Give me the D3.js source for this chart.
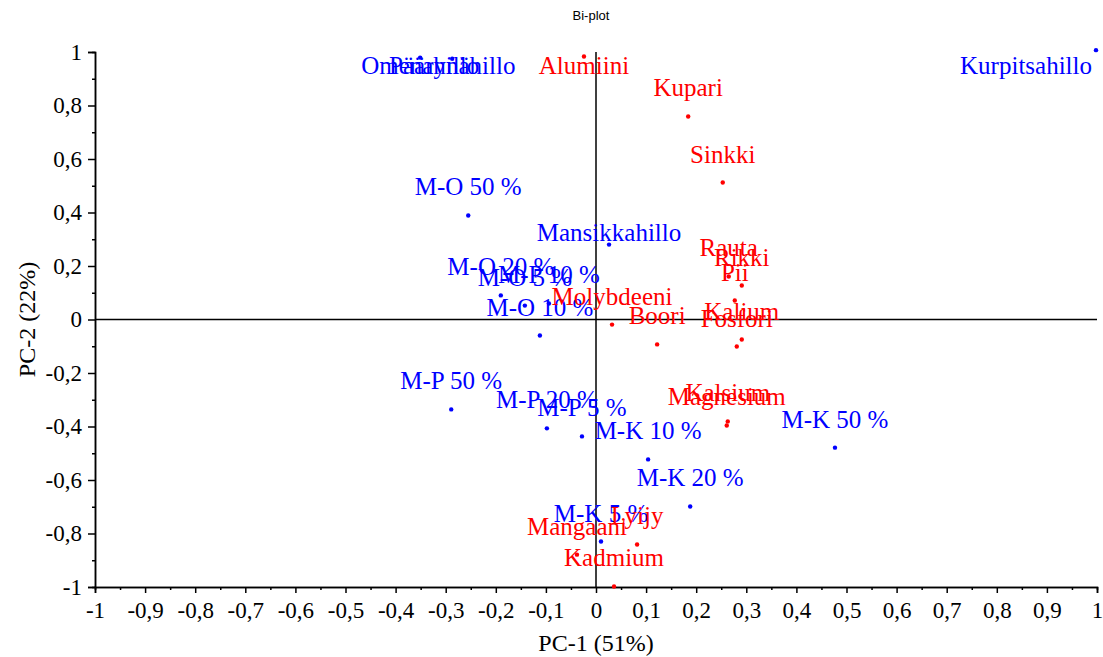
<!DOCTYPE html>
<html>
<head>
<meta charset="utf-8">
<script src="https://cdn.jsdelivr.net/npm/d3@7"></script>
<style>
  body { margin: 0; background: #fff; }
  text { font-family: "Liberation Serif", "Times New Roman", serif; }
</style>
</head>
<body>
<script>
const [svgWidth, svgHeight] = [1103, 657];

// samples (blue)
const sampleNames = [
  "Omenahillo", "Päärynähillo", "Mansikkahillo", "Kurpitsahillo",
  "M-O 5 %", "M-O 10 %", "M-O 20 %", "M-O 50 %",
  "M-P 5 %", "M-P 10 %", "M-P 20 %", "M-P 50 %",
  "M-K 5 %", "M-K 10 %", "M-K 20 %", "M-K 50 %"
];
const sampleX = [-0.351, -0.287, 0.026, 0.998, -0.142, -0.112, -0.190, -0.255,
  -0.028, -0.094, -0.098, -0.289, 0.010, 0.104, 0.188, 0.477];
const sampleY = [0.979, 0.975, 0.280, 1.007, 0.052, -0.060, 0.090, 0.389,
  -0.437, 0.060, -0.407, -0.336, -0.830, -0.523, -0.699, -0.479];

// elements (red)
const elementNames = [
  "Alumiini", "Kupari", "Sinkki", "Rauta", "Rikki", "Pii", "Molybdeeni", "Boori",
  "Kalium", "Fosfori", "Kalsium", "Magnesium", "Lyijy", "Mangaani", "Kadmium"
];
const elementX = [-0.024, 0.184, 0.253, 0.265, 0.291, 0.277, 0.032, 0.122,
  0.291, 0.281, 0.263, 0.261, 0.082, -0.038, 0.036];
const elementY = [0.983, 0.759, 0.512, 0.161, 0.127, 0.071, -0.019, -0.093,
  -0.075, -0.101, -0.381, -0.396, -0.841, -0.879, -0.998];

const xTicks = [-1, -0.9, -0.8, -0.7, -0.6, -0.5, -0.4, -0.3, -0.2, -0.1, 0, 0.1, 0.2, 0.3, 0.4, 0.5, 0.6, 0.7, 0.8, 0.9, 1];
const xTickLabels = ["-1", "-0,9", "-0,8", "-0,7", "-0,6", "-0,5", "-0,4", "-0,3", "-0,2", "-0,1", "0",
  "0,1", "0,2", "0,3", "0,4", "0,5", "0,6", "0,7", "0,8", "0,9", "1"];
const yTicks = [-1, -0.8, -0.6, -0.4, -0.2, 0, 0.2, 0.4, 0.6, 0.8, 1];
const yTickLabels = ["-1", "-0,8", "-0,6", "-0,4", "-0,2", "0", "0,2", "0,4", "0,6", "0,8", "1"];

const points = sampleNames.map((n, i) => ({name: n, x: sampleX[i], y: sampleY[i], color: "#0000ff"}))
  .concat(elementNames.map((n, i) => ({name: n, x: elementX[i], y: elementY[i], color: "#ff0000"})));

const x = d3.scaleLinear().domain([-1, 1]).range([95, 1097]);
const y = d3.scaleLinear().domain([-1, 1]).range([587, 52]);

const svg = d3.select('body')
  .append('svg')
  .attr("width", svgWidth)
  .attr("height", svgHeight);

// title
svg.append("text")
  .attr("x", 591).attr("y", 20)
  .attr("text-anchor", "middle")
  .style("font-family", "'Liberation Sans', Arial, sans-serif")
  .style("font-size", "13px")
  .text("Bi-plot");

// minor ticks (own groups so the major axis doesn't drop them)
svg.append("g").attr("transform", `translate(0,${y(-1)})`)
  .call(d3.axisBottom(x).tickValues(d3.range(-19, 20, 2).map(d => d / 20)).tickSize(3).tickFormat(""));
svg.append("g").attr("transform", `translate(${x(-1)},0)`)
  .call(d3.axisLeft(y).tickValues(d3.range(-9, 10, 2).map(d => d / 10)).tickSize(3).tickFormat(""));

// major ticks
svg.append("g").attr("transform", `translate(0,${y(-1)})`)
  .call(d3.axisBottom(x).tickValues(xTicks).tickSize(6).tickPadding(9)
    .tickFormat((d, i) => xTickLabels[i]));
svg.append("g").attr("transform", `translate(${x(-1)},0)`)
  .call(d3.axisLeft(y).tickValues(yTicks).tickSize(7).tickPadding(6)
    .tickFormat((d, i) => yTickLabels[i]));

svg.selectAll(".domain").attr("stroke", "#000").attr("stroke-width", 1.5);
svg.selectAll(".tick line").attr("stroke", "#000").attr("stroke-width", 1.5);
svg.selectAll(".tick text")
  .attr("fill", "#000")
  .attr("font-family", null)
  .style("font-family", "'Liberation Serif', 'Times New Roman', serif")
  .style("font-size", "23px");

// zero lines
svg.append("line")
  .attr("x1", x(-1)).attr("x2", x(1)).attr("y1", y(0)).attr("y2", y(0))
  .attr("stroke", "#000").attr("stroke-width", 1.5);
svg.append("line")
  .attr("x1", x(0)).attr("x2", x(0)).attr("y1", y(1)).attr("y2", y(-1))
  .attr("stroke", "#000").attr("stroke-width", 1.5);

// axis titles
svg.append("text")
  .attr("x", x(0)).attr("y", 651)
  .attr("text-anchor", "middle")
  .style("font-size", "24px")
  .text("PC-1 (51%)");
svg.append("text")
  .attr("transform", `translate(35,${y(0)}) rotate(-90)`)
  .attr("text-anchor", "middle")
  .style("font-size", "24px")
  .text("PC-2 (22%)");

// points
svg.selectAll("circle")
  .data(points)
  .enter()
  .append("circle")
    .attr("cx", d => x(d.x))
    .attr("cy", d => y(d.y))
    .attr("r", 2.2)
    .attr("fill", d => d.color);

// labels above the points, kept inside the plot
const labelNudge = {"Mansikkahillo": 16};
const labels = svg.selectAll("text.lbl")
  .data(points)
  .enter()
  .append("text")
    .attr("class", "lbl")
    .attr("fill", d => d.color)
    .style("font-size", "25px")
    .attr("text-anchor", "middle")
    .text(d => d.name);

labels.each(function(d) {
  const w = this.getComputedTextLength();
  let cx = x(d.x);
  let by = y(d.y) - 20 + (labelNudge[d.name] || 0);
  if (by - 17 < y(1) + 5) by = y(1) + 22;
  if (cx + w / 2 > x(1) - 5) cx = x(1) - 5 - w / 2;
  d3.select(this).attr("x", cx).attr("y", by);
});
</script>
</body>
</html>
